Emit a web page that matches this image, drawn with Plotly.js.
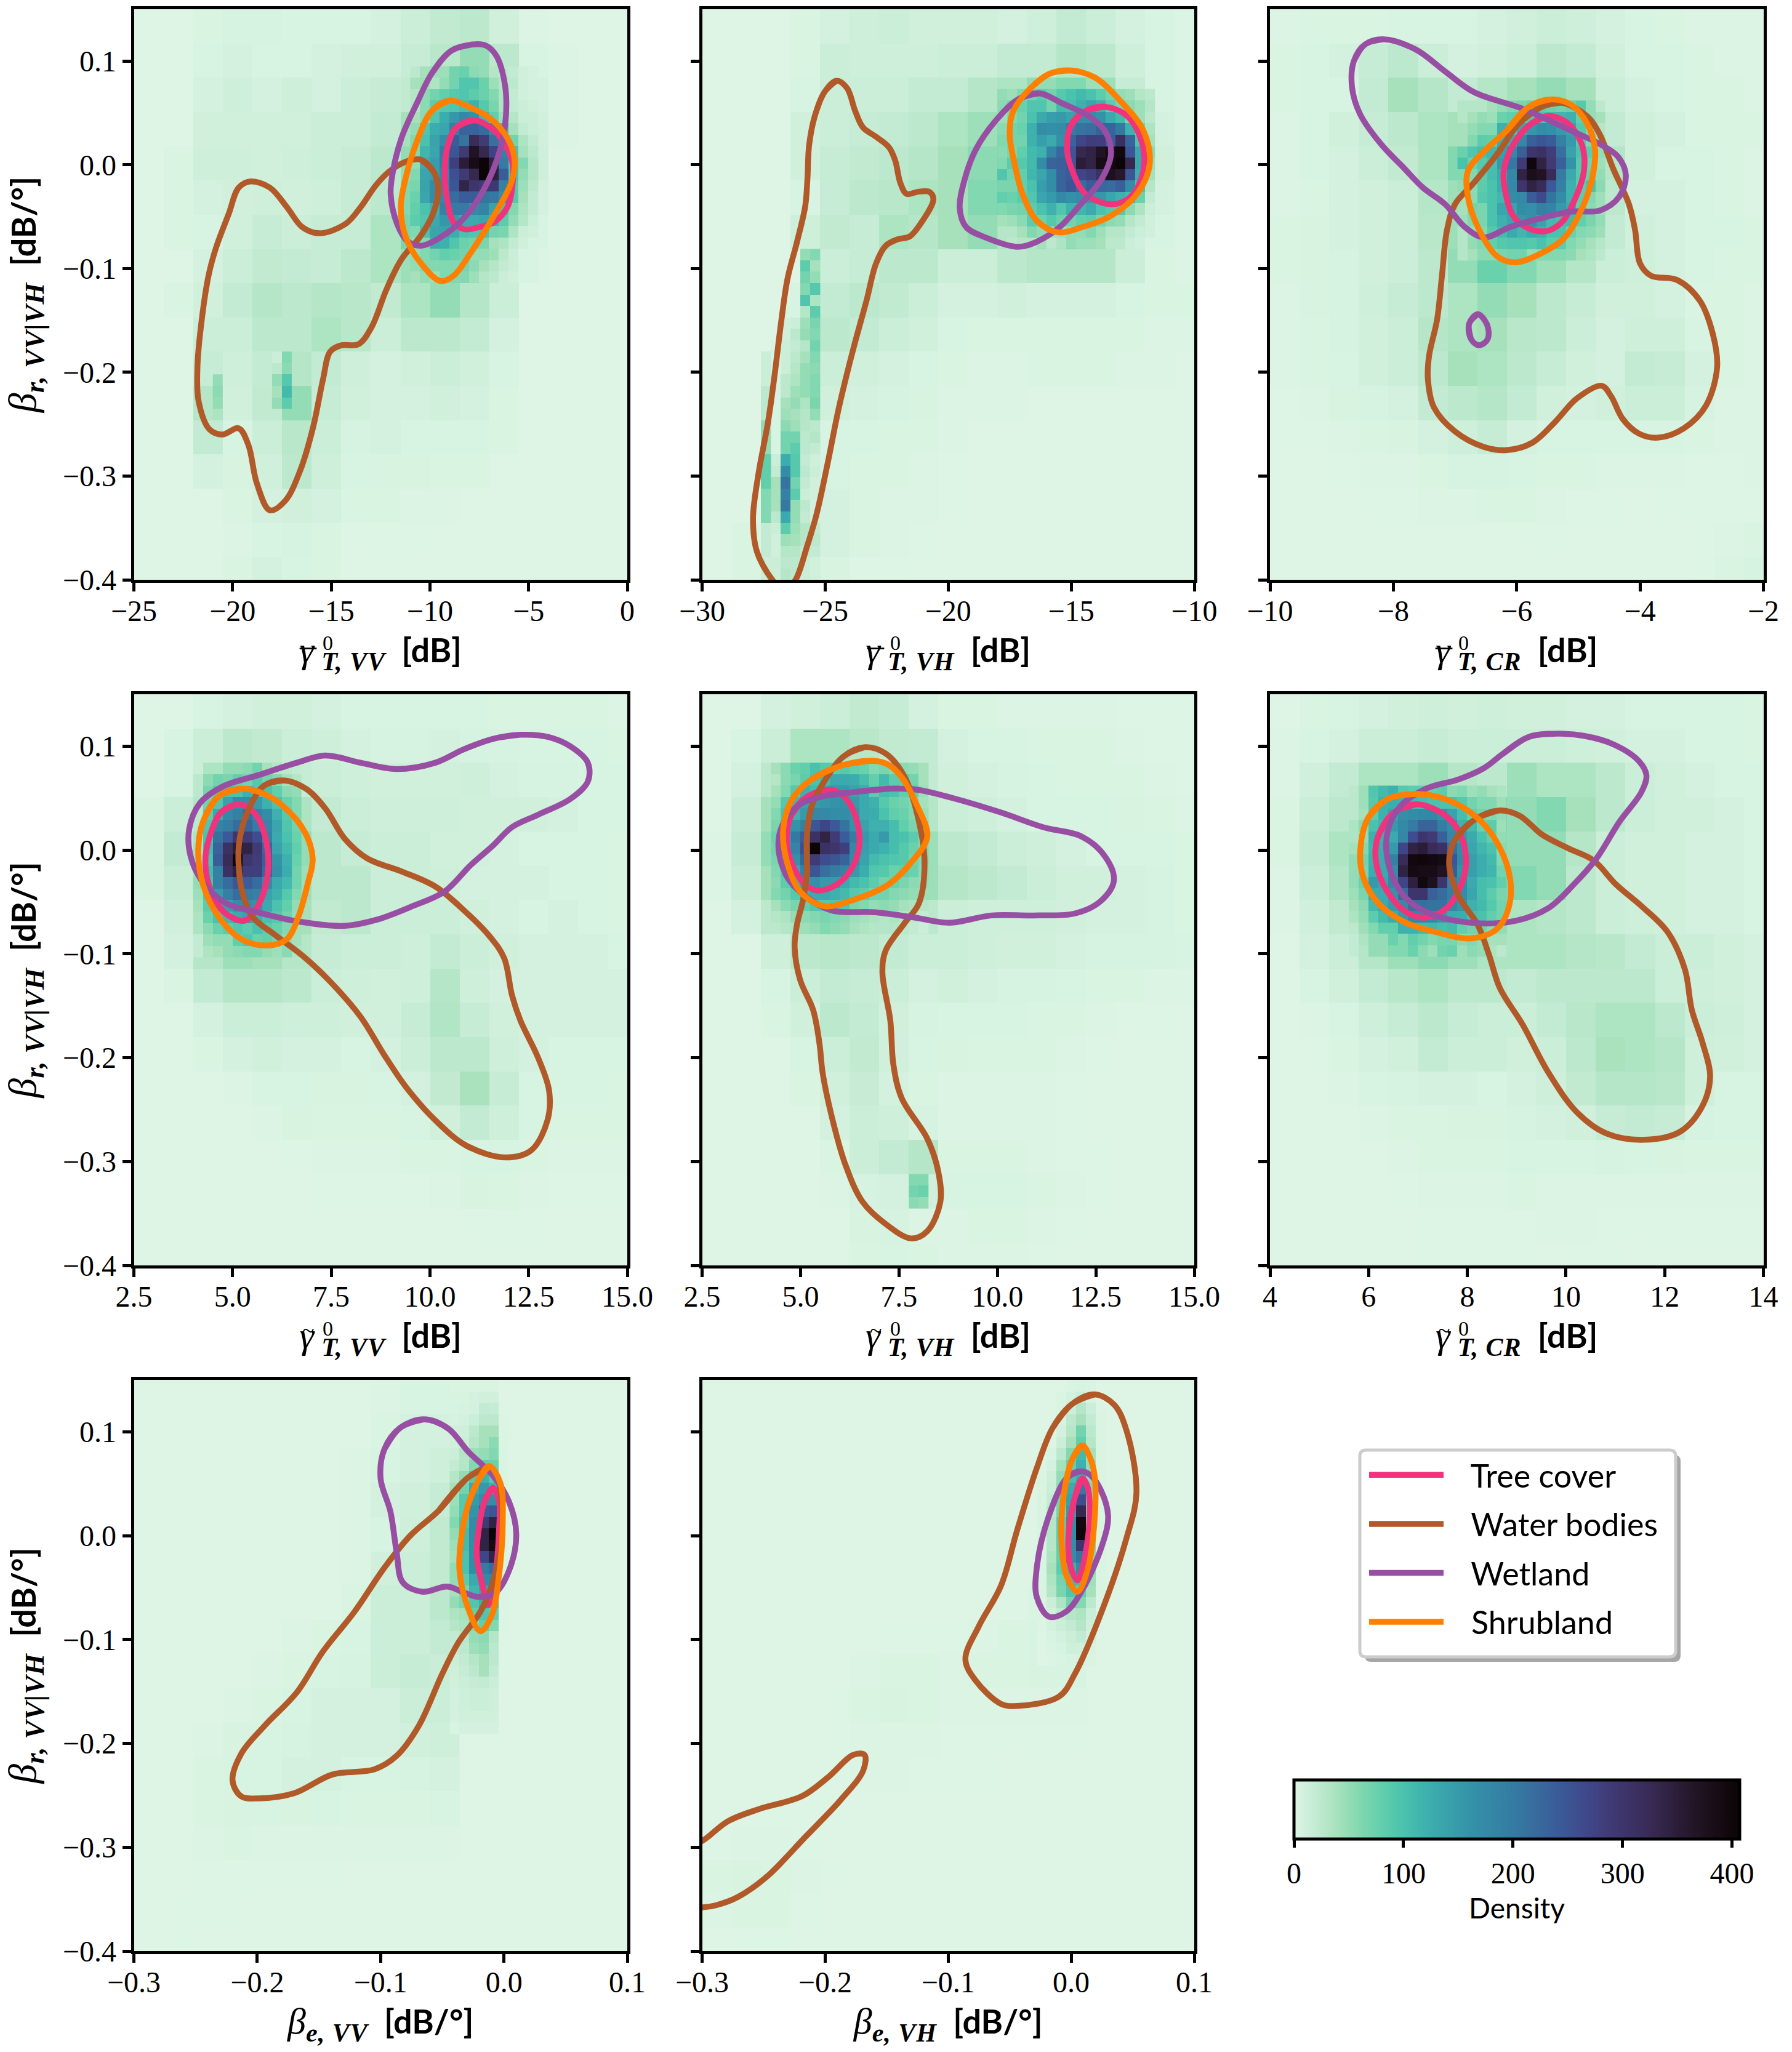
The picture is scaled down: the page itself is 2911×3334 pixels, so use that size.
<!DOCTYPE html>
<html><head><meta charset="utf-8">
<script src="https://cdn.plot.ly/plotly-3.0.1.min.js"></script>
<style>html,body{margin:0;padding:0;background:#fff}</style></head>
<body><div id="chart" style="width:2911px;height:3334px"></div>
<script>
// ---- class styles
const classNames = ['Tree cover','Water bodies','Wetland','Shrubland'];
const classColors = ['#f1337c','#b15928','#984ea3','#ff7f00'];
// ---- density colour ramp
const colorStops = [[0,'#def5e5'],[0.05,'#c3ebd3'],[0.1,'#a5e1ba'],[0.15,'#80d7b0'],[0.2,'#60ceac'],[0.25,'#49c1ad'],[0.3,'#3dafae'],[0.4,'#3491a8'],[0.5,'#3579a2'],[0.6,'#3b5998'],[0.65,'#3e4a8c'],[0.7,'#413c7a'],[0.8,'#382a54'],[0.9,'#231526'],[1,'#0b0405']];
const densityMax = 407;
const densityTicks = [0,100,200,300,400];
const yRange = [-0.4,0.15];
const yTicks = [-0.4,-0.3,-0.2,-0.1,0,0.1];

// ---- panel 1: mean gamma VV
const p1_xRange=[-25,0], p1_xTicks=[-25,-20,-15,-10,-5,0];
const p1_base=[
[0,0,3,6,6,5,5,5,8,15,22,25,10,2,0,0,0],
[0,0,5,8,5,5,8,10,10,18,28,50,25,5,2,0,0],
[0,0,8,12,8,12,8,15,18,22,60,75,30,8,2,0,0],
[0,0,10,10,10,10,15,15,20,40,100,110,40,10,2,0,0],
[0,3,12,12,10,12,15,18,25,50,130,240,70,12,0,0,0],
[0,3,8,10,12,10,12,18,25,60,120,250,60,8,0,0,0],
[0,3,5,10,18,15,18,18,35,65,130,170,35,5,0,0,0],
[0,0,8,15,22,20,18,25,35,45,80,60,15,2,0,0,0],
[0,3,10,20,30,25,30,28,22,35,50,30,15,0,0,0,0],
[0,0,15,15,25,25,35,28,15,25,25,20,8,0,0,0,0],
[0,0,18,12,20,30,20,12,8,10,15,10,5,0,0,0,0],
[0,0,30,10,22,50,18,10,8,8,10,8,3,0,0,0,0],
[0,0,20,5,15,28,15,6,8,5,5,5,3,0,0,0,0],
[0,0,8,4,10,25,12,5,4,4,3,3,0,0,0,0,0],
[0,0,0,3,8,10,8,3,3,2,2,0,0,0,0,0,0],
[0,0,0,2,5,6,3,1,1,1,0,0,0,0,0,0,0],
[0,0,0,3,8,5,3,0,0,0,0,0,0,0,0,0,0]];
const p1_core=[
[25,40,45,45,70,75,55,50,30,25,20,10,8],
[40,45,35,50,70,95,95,75,45,30,25,10,8],
[30,55,70,80,90,95,85,75,60,35,20,10,8],
[30,55,85,90,95,105,120,90,65,35,20,15,10],
[40,55,95,125,155,175,165,115,80,45,30,15,15],
[50,95,125,135,190,230,230,220,180,110,40,20,15],
[60,100,140,170,240,210,320,290,215,130,70,35,20],
[60,115,135,200,250,290,370,330,275,190,100,40,25],
[50,125,145,195,280,350,385,405,340,200,90,60,30],
[60,135,145,180,255,290,330,405,345,240,100,50,30],
[65,140,170,190,250,335,300,290,295,190,90,45,25],
[75,135,170,180,220,240,240,210,205,170,90,40,20],
[80,100,120,190,200,200,175,185,140,100,60,35,20],
[85,95,130,155,150,130,130,135,120,85,50,30,15],
[60,100,135,140,125,100,95,100,70,65,35,15,10],
[50,60,125,120,95,75,70,65,40,35,20,10,5],
[50,60,70,80,75,70,50,50,45,25,15,5,5],
[50,60,60,60,60,65,55,40,30,20,15,5,5],
[40,50,45,60,60,60,45,30,25,15,10,5,5]];
const p1_patchA=[[15,60],[25,55],[50,90],[40,110],[50,85]];
const p1_patchB=[[50],[55],[50],[35]];
const p1_tree_x=[-7.83,-8.71,-9.14,-9.25,-9.14,-8.81,-8.27,-7.5,-6.74,-6.08,-5.8,-5.86,-6.41,-7.17];
const p1_tree_y=[0.043,0.035,0.015,-0.007,-0.032,-0.055,-0.062,-0.06,-0.055,-0.041,-0.016,0.005,0.026,0.039];
const p1_water_x=[-9.58,-9.8,-10.45,-11.22,-12.1,-12.75,-13.52,-14.28,-15.6,-16.47,-17.24,-18.11,-19.09,-19.69,-20.19,-20.84,-21.22,-21.61,-21.78,-21.72,-21.17,-20.52,-19.69,-19.2,-18.77,-18.11,-17.34,-16.58,-15.92,-15.42,-15.05,-14.5,-13.63,-12.97,-12.2,-11.44,-10.45,-9.8];
const p1_water_y=[-0.022,-0.007,0.005,0.003,-0.007,-0.02,-0.041,-0.057,-0.066,-0.06,-0.041,-0.022,-0.016,-0.022,-0.047,-0.08,-0.107,-0.157,-0.195,-0.228,-0.255,-0.26,-0.254,-0.27,-0.307,-0.333,-0.324,-0.295,-0.253,-0.207,-0.18,-0.174,-0.173,-0.157,-0.12,-0.091,-0.068,-0.045];
const p1_wetland_x=[-7.83,-8.92,-9.91,-10.67,-11.44,-11.88,-11.99,-11.66,-11.11,-10.45,-9.47,-8.16,-7.06,-6.41,-6.15,-6.19,-6.63,-7.17];
const p1_wetland_y=[0.116,0.11,0.088,0.059,0.026,-0.007,-0.028,-0.057,-0.074,-0.078,-0.07,-0.049,-0.016,0.017,0.047,0.076,0.105,0.115];
const p1_shrub_x=[-8.99,-9.91,-10.67,-11.22,-11.48,-11.22,-10.45,-9.47,-8.81,-7.94,-6.63,-5.86,-5.71,-6.08,-6.96,-8.05];
const p1_shrub_y=[0.062,0.052,0.022,-0.012,-0.041,-0.07,-0.095,-0.112,-0.107,-0.085,-0.045,-0.016,0.005,0.026,0.045,0.056];

// ---- panel 2: mean gamma VH
const p2_xRange=[-30,-10], p2_xTicks=[-30,-25,-20,-15,-10];
const p2_base=[
[0,0,0,3,8,12,15,10,10,10,8,12,20,15,8,5,2],
[0,0,0,3,15,12,12,12,15,15,20,20,30,25,12,5,2],
[0,0,0,5,15,15,15,20,20,30,35,50,60,45,18,5,2],
[0,0,0,10,15,18,20,25,35,45,60,120,170,90,30,8,2],
[0,0,0,10,18,22,25,30,40,55,80,150,270,230,50,10,2],
[0,0,0,5,18,25,28,35,40,60,85,140,200,150,40,8,2],
[0,0,0,12,22,18,35,30,40,50,60,100,90,60,25,5,2],
[0,0,0,35,15,18,25,25,15,15,25,30,30,30,15,3,2],
[0,0,0,50,20,25,22,15,8,8,10,8,8,8,5,3,3],
[0,0,0,50,25,20,15,10,5,3,3,3,3,3,3,2,2],
[0,0,15,50,15,10,8,5,3,2,2,3,3,3,2,2,0],
[0,0,25,35,10,8,6,4,2,2,2,0,0,0,0,0,0],
[0,0,50,20,5,5,3,3,2,0,0,0,0,0,0,0,0],
[0,0,80,30,5,3,3,2,1,0,0,0,0,0,0,0,0],
[0,0,60,25,8,3,2,2,1,0,0,0,0,0,0,0,0],
[0,3,20,15,8,3,2,1,0,0,0,0,0,0,0,0,0],
[0,3,15,10,4,1,1,0,0,0,0,0,0,0,0,0,0]];
const p2_core=[
[50,45,60,70,85,70,90,100,110,100,85,70,50,45,30,25],
[55,65,75,95,95,70,110,105,120,135,120,85,65,55,45,30],
[45,60,70,100,130,145,150,140,170,170,160,130,110,65,45,25],
[55,70,75,120,170,165,170,200,210,215,235,230,205,120,70,35],
[60,70,70,120,145,130,165,230,270,285,280,240,315,230,100,40],
[55,65,80,110,120,185,225,250,330,340,370,385,395,250,135,55],
[60,85,90,110,170,230,235,250,350,340,385,395,405,330,135,45],
[95,70,80,115,135,170,230,240,270,280,310,375,360,250,125,40],
[65,65,80,100,145,170,230,250,220,240,225,220,235,170,100,30],
[80,75,85,95,135,150,175,165,170,155,155,135,120,110,75,20],
[60,65,70,85,100,120,95,120,115,130,100,90,90,55,35,15],
[40,45,55,85,75,90,75,70,80,85,70,55,50,30,20,10],
[30,30,40,60,50,45,45,50,50,60,45,30,30,20,15,10],
[30,25,30,30,40,25,35,50,45,45,40,25,25,15,10,5]];
const p2_streak=[
[0,0,0,50,60],[0,0,0,85,40],[0,0,0,70,50],[0,0,5,60,90],[0,0,5,95,35],[0,5,5,30,85],[0,10,15,45,65],[0,10,25,50,60],[5,15,20,30,70],[5,15,25,40,60],[5,15,30,50,55],[5,25,35,50,60],[5,25,45,50,60],[5,40,50,35,65],[5,45,40,30,50],[5,55,45,30,25],[5,70,70,25,30],[5,70,85,25,20],[15,125,90,20,12],[20,170,90,25,15],[40,210,70,20,10],[40,190,85,15,10],[40,205,50,25,8],[25,130,50,20,8],[15,85,45,30,20],[10,45,40,30,25],[10,30,30,20,20],[15,25,25,15,10],[15,30,25,15,10]];
const p2_tree_x=[-13.64,-14.49,-15.01,-15.17,-14.95,-14.42,-13.38,-12.59,-12.07,-12.13,-12.72];
const p2_tree_y=[0.056,0.051,0.038,0.015,-0.006,-0.028,-0.038,-0.031,-0.006,0.022,0.047];
const p2_water_x=[-24.54,-25.03,-25.42,-25.65,-25.72,-25.81,-26.14,-26.53,-26.79,-27.05,-27.32,-27.71,-27.93,-27.77,-27.12,-26.66,-26.2,-25.75,-25.35,-24.9,-24.44,-23.85,-23.32,-22.93,-22.54,-22.08,-21.56,-21.1,-20.6,-20.77,-21.23,-21.69,-21.95,-22.15,-22.41,-22.93,-23.46,-23.78,-24.11];
const p2_water_y=[0.081,0.07,0.047,0.019,-0.014,-0.04,-0.074,-0.11,-0.152,-0.202,-0.248,-0.298,-0.341,-0.373,-0.401,-0.412,-0.4,-0.369,-0.337,-0.288,-0.234,-0.177,-0.131,-0.095,-0.078,-0.072,-0.069,-0.056,-0.033,-0.026,-0.026,-0.028,-0.017,0.004,0.017,0.027,0.036,0.052,0.074];
const p2_wetland_x=[-16.32,-17.17,-18.09,-18.87,-19.33,-19.53,-19.27,-18.48,-17.17,-16.39,-15.47,-14.69,-13.77,-13.38,-13.64,-14.29,-15.34];
const p2_wetland_y=[0.069,0.063,0.042,0.015,-0.014,-0.042,-0.06,-0.07,-0.079,-0.074,-0.06,-0.04,-0.014,0.011,0.033,0.047,0.059];
const p2_shrub_x=[-15.01,-15.86,-16.65,-17.37,-17.5,-17.3,-16.98,-16.39,-15.54,-14.55,-13.38,-12.33,-11.81,-12.07,-12.98,-14.03];
const p2_shrub_y=[0.091,0.088,0.074,0.051,0.029,0.001,-0.028,-0.054,-0.065,-0.06,-0.049,-0.028,0.001,0.033,0.061,0.084];

// ---- panel 3: mean gamma CR
const p3_xRange=[-10,-2], p3_xTicks=[-10,-8,-6,-4,-2];
const p3_base=[
[2,3,3,3,5,5,5,8,10,15,12,8,5,3,2,2,2],
[3,5,8,18,25,15,8,10,15,25,20,10,5,5,3,2,2],
[3,5,5,20,40,30,20,30,40,50,40,15,8,5,3,3,2],
[2,5,10,18,25,35,40,45,70,80,50,20,10,8,3,3,3],
[2,5,8,15,22,35,60,100,230,250,90,30,10,5,5,3,2],
[2,3,8,10,15,30,45,100,200,170,70,25,8,8,5,3,2],
[3,4,8,10,15,28,45,70,90,70,50,20,10,8,5,5,3],
[3,4,6,10,15,25,50,75,60,45,30,15,12,8,5,3,3],
[2,4,6,12,18,25,35,50,40,25,18,10,10,8,3,3,2],
[2,3,6,10,15,30,35,40,28,25,15,8,12,12,5,3,2],
[2,3,5,10,15,25,40,35,25,18,10,8,20,18,8,3,2],
[1,2,4,6,8,20,25,30,20,10,8,10,15,15,6,2,2],
[1,1,2,3,4,8,12,18,8,5,5,5,5,5,3,2,2],
[0,0,1,2,2,3,6,6,5,3,3,2,2,2,1,1,2],
[0,0,0,1,1,2,2,3,3,2,1,1,0,1,1,1,1],
[0,0,0,0,0,0,0,0,1,1,0,0,0,0,1,2,3],
[0,0,0,0,0,0,0,0,0,0,0,0,0,0,1,3,6]];
const p3_core=[
[30,30,30,40,50,60,65,75,85,75,70,75,90,50,25],
[30,40,50,45,75,80,80,95,100,110,115,120,80,50,40],
[40,50,60,60,120,95,135,155,170,165,150,140,90,60,30],
[40,60,85,80,125,130,180,235,250,240,190,150,90,60,45],
[75,95,105,115,145,180,235,300,310,285,215,140,100,85,50],
[100,75,90,105,150,205,290,400,340,290,235,160,90,70,45],
[60,60,85,105,130,180,340,380,370,320,200,130,90,75,50],
[50,55,85,100,125,175,300,340,320,245,190,120,85,100,55],
[40,55,90,100,115,170,175,240,265,210,170,120,85,60,45],
[40,70,65,100,135,140,170,165,190,185,150,130,80,55,45],
[45,60,65,100,120,135,155,165,140,110,105,110,80,65,50],
[30,45,60,90,110,130,115,130,120,100,100,75,60,55,45],
[30,50,60,80,90,95,95,90,100,85,85,60,50,40,30],
[30,40,55,55,65,70,70,50,60,60,60,55,40,35,25]];
const p3_tree_x=[-5.49,-5.8,-6.06,-6.21,-6.19,-6.06,-5.85,-5.54,-5.28,-5.07,-4.91,-4.94,-5.17];
const p3_tree_y=[0.047,0.038,0.019,-0.006,-0.024,-0.049,-0.06,-0.064,-0.056,-0.035,-0.006,0.019,0.04];
const p3_water_x=[-5.28,-5.59,-5.96,-6.32,-6.69,-7,-7.13,-7.21,-7.29,-7.42,-7.44,-7.34,-7,-6.53,-6.16,-5.75,-5.38,-5.02,-4.62,-4.47,-4.28,-4.02,-3.71,-3.29,-2.93,-2.75,-2.82,-3.03,-3.4,-3.82,-4,-4.08,-4.18,-4.44,-4.65,-4.86];
const p3_water_y=[0.06,0.056,0.04,0.01,-0.017,-0.038,-0.063,-0.106,-0.149,-0.184,-0.206,-0.234,-0.257,-0.272,-0.275,-0.268,-0.248,-0.225,-0.213,-0.223,-0.245,-0.259,-0.263,-0.254,-0.232,-0.195,-0.163,-0.131,-0.111,-0.107,-0.095,-0.063,-0.038,-0.003,0.029,0.047];
const p3_wetland_x=[-8.15,-8.46,-8.64,-8.67,-8.54,-8.2,-7.83,-7.52,-7.16,-6.84,-6.53,-6.11,-5.64,-5.12,-4.65,-4.34,-4.23,-4.36,-4.65,-5.12,-5.9,-6.69,-7.16,-7.63];
const p3_wetland_y=[0.121,0.116,0.1,0.075,0.049,0.02,-0.003,-0.022,-0.038,-0.06,-0.07,-0.06,-0.052,-0.045,-0.044,-0.031,-0.01,0.008,0.02,0.033,0.054,0.07,0.09,0.111];
const p3_wetlandSmall_x=[-6.63,-6.77,-6.74,-6.61,-6.47,-6.48];
const p3_wetlandSmall_y=[-0.144,-0.153,-0.168,-0.174,-0.168,-0.154];
const p3_shrub_x=[-5.46,-5.8,-6.16,-6.53,-6.79,-6.79,-6.63,-6.32,-6.03,-5.59,-5.22,-4.94,-4.78,-4.73,-4.86,-5.12];
const p3_shrub_y=[0.063,0.056,0.033,0.013,-0.006,-0.031,-0.06,-0.088,-0.094,-0.085,-0.07,-0.042,-0.014,0.015,0.04,0.058];

// ---- panel 4: median gamma VV
const p4_xRange=[2.5,15], p4_xTicks=[2.5,5,7.5,10,12.5,15];
const p4_base=[
[0,0,5,8,10,10,8,5,5,5,5,5,3,3,3,3,2],
[0,5,15,25,22,15,12,8,6,6,8,6,6,5,5,5,3],
[0,5,30,50,35,18,15,12,10,10,10,12,8,6,6,5,5],
[3,15,60,150,100,35,20,15,12,12,12,10,10,10,8,5,5],
[3,20,100,300,150,50,25,18,15,15,10,10,8,5,5,5,3],
[3,15,60,150,110,45,25,25,15,15,12,8,8,8,5,5,3],
[0,10,50,80,70,40,22,25,15,15,15,10,8,5,8,5,3],
[0,8,30,45,40,30,18,15,15,12,20,15,10,8,8,8,5],
[0,3,20,30,30,25,15,12,10,12,30,12,8,8,8,8,8],
[0,0,8,15,15,12,12,10,10,18,32,18,10,8,8,8,8],
[0,0,3,8,10,8,8,5,8,15,25,25,12,8,5,5,5],
[0,0,0,2,5,5,4,4,5,8,22,38,18,5,5,5,3],
[0,0,0,0,2,4,3,3,3,5,10,20,12,5,3,3,3],
[0,0,0,0,0,1,2,2,2,3,3,5,5,3,2,2,2],
[0,0,0,0,0,0,1,1,1,1,2,4,3,2,1,1,1],
[0,0,0,0,0,0,0,0,0,0,0,1,1,1,0,0,0],
[0,0,0,0,0,0,0,0,0,0,0,0,0,0,0,0,0]];
const p4_core=[
[15,35,35,50,50,55,70,40,30,25,20],
[25,55,70,65,80,70,90,70,60,40,30],
[25,65,85,100,100,120,95,100,80,55,50],
[30,70,95,140,170,170,150,120,100,75,60],
[25,85,130,175,190,215,190,170,120,90,60],
[25,95,185,195,220,230,200,180,135,95,70],
[35,100,210,245,300,290,260,190,130,100,75],
[40,110,230,310,350,340,290,225,140,110,80],
[45,100,240,320,400,300,285,235,160,120,75],
[40,110,190,310,345,280,280,225,165,125,70],
[50,100,190,220,250,240,220,170,130,110,70],
[45,95,150,190,220,200,190,140,120,90,60],
[40,85,130,145,170,170,160,130,100,80,50],
[35,75,100,115,130,140,120,100,90,70,50],
[35,55,75,85,95,85,100,85,75,60,40],
[20,45,50,50,80,95,75,80,70,50,40],
[20,35,40,50,55,60,60,50,45,55,35]];
const p4_tree_x=[5.11,4.7,4.42,4.31,4.46,4.82,5.31,5.64,5.88,5.88,5.64,5.35];
const p4_tree_y=[0.044,0.036,0.013,-0.012,-0.04,-0.061,-0.068,-0.054,-0.026,0.002,0.031,0.042];
const p4_water_x=[6.29,5.8,5.44,5.19,5.15,5.27,5.52,6.05,6.78,7.43,8.25,8.82,9.39,10.13,10.94,11.92,12.57,12.98,13.02,12.74,12.29,12.08,11.88,11.51,10.86,10.13,9.31,8.41,7.84,7.35,6.86];
const p4_water_y=[0.067,0.062,0.042,0.013,-0.012,-0.044,-0.065,-0.081,-0.102,-0.125,-0.161,-0.196,-0.228,-0.26,-0.285,-0.296,-0.289,-0.26,-0.232,-0.2,-0.164,-0.14,-0.104,-0.083,-0.058,-0.035,-0.021,-0.008,0.011,0.04,0.059];
const p4_wetland_x=[12.29,11.59,10.86,10.13,9.15,8.25,7.35,6.62,5.64,4.74,4.17,3.9,3.93,4.21,4.82,5.64,6.7,7.84,8.66,9.56,10.37,11.02,11.59,12.08,12.74,13.55,14,14,13.55,12.98];
const p4_wetland_y=[0.111,0.107,0.097,0.084,0.078,0.084,0.091,0.084,0.072,0.061,0.045,0.02,-0.005,-0.029,-0.051,-0.06,-0.069,-0.073,-0.067,-0.054,-0.04,-0.015,0.004,0.022,0.034,0.049,0.066,0.084,0.1,0.109];
const p4_shrub_x=[5.27,4.66,4.25,4.13,4.25,4.66,5.23,5.88,6.37,6.66,6.9,7.03,6.82,6.29,5.8];
const p4_shrub_y=[0.059,0.052,0.027,-0.001,-0.033,-0.065,-0.086,-0.092,-0.086,-0.065,-0.033,-0.008,0.018,0.042,0.054];

// ---- panel 5: median gamma VH
const p5_xRange=[2.5,15], p5_xTicks=[2.5,5,7.5,10,12.5,15];
const p5_base=[
[0,0,8,10,15,22,18,8,3,3,2,2,2,2,1,1,1],
[0,5,15,35,35,28,22,20,8,5,5,3,3,3,2,1,1],
[0,8,25,60,70,60,40,20,10,8,6,5,3,3,3,2,1],
[0,14,40,170,180,90,60,30,15,12,8,5,5,5,4,3,2],
[2,18,50,350,230,120,90,45,25,20,15,12,8,5,5,5,3],
[2,14,40,130,130,90,60,45,30,25,20,15,10,10,8,6,3],
[0,8,25,40,50,40,30,25,15,12,12,12,10,8,8,6,3],
[0,0,12,25,28,25,20,15,15,12,10,10,8,6,6,6,5],
[0,0,5,15,20,18,15,8,10,8,6,6,5,3,3,2,2],
[0,0,3,10,25,20,10,6,5,5,5,3,3,2,1,1,0],
[0,0,0,5,15,22,10,5,4,3,3,3,2,1,0,0,0],
[0,0,0,3,10,18,8,3,2,2,2,2,1,0,0,0,0],
[0,0,0,0,8,15,12,6,2,2,2,2,1,0,0,0,0],
[0,0,0,0,3,15,20,30,3,3,3,2,1,1,0,0,0],
[0,0,0,0,2,6,8,10,5,5,5,3,2,1,0,0,0],
[0,0,0,0,0,4,6,2,2,3,3,2,1,0,0,0,0],
[0,0,0,0,0,3,5,3,2,2,2,1,0,0,0,0,0]];
const p5_core=[
[40,55,75,80,100,90,85,90,80,75,60,65,60,55,50,40],
[30,55,65,85,100,110,130,130,125,105,80,110,85,85,70,40],
[40,60,90,120,110,130,150,150,140,125,85,105,100,80,80,45],
[50,90,115,140,150,155,160,165,150,130,120,90,75,70,60,40],
[60,100,120,150,180,175,170,170,160,130,125,100,80,75,60,45],
[65,100,160,190,250,270,245,210,160,140,120,120,105,80,65,50],
[75,110,205,240,310,340,290,240,200,150,130,150,105,100,85,55],
[70,100,185,260,405,310,300,280,180,145,130,120,105,90,75,60],
[65,100,165,230,290,260,250,230,170,140,110,100,95,90,70,60],
[60,90,140,190,250,215,200,185,150,125,95,90,75,80,75,55],
[55,85,120,150,165,150,150,130,110,100,85,70,75,65,55,50],
[60,70,90,120,130,130,120,110,90,85,70,70,60,55,50,45],
[40,55,65,80,95,90,95,95,65,60,50,55,50,40,35,30],
[30,35,50,55,60,65,60,55,45,40,35,30,35,30,25,20],
[25,30,35,45,50,60,55,50,40,35,30,30,30,25,20,15]];
const p5_patch=[[60,60],[70,75],[55,50]];
const p5_tree_x=[5.77,5.2,4.77,4.65,4.77,5.11,5.44,5.93,6.34,6.5,6.34,6.09];
const p5_tree_y=[0.058,0.052,0.034,0.01,-0.012,-0.033,-0.039,-0.033,-0.015,0.01,0.038,0.052];
const p5_water_x=[6.63,6.09,5.6,5.28,5.16,5.16,5.07,4.91,4.85,4.99,5.32,5.48,5.56,5.77,6.14,6.58,7.16,7.81,8.22,8.55,8.5,8.22,7.57,7.36,7.28,7.08,7.16,7.65,8.01,8.15,8.01,7.65,7.16];
const p5_water_y=[0.099,0.09,0.066,0.042,0.013,-0.022,-0.047,-0.072,-0.093,-0.125,-0.154,-0.186,-0.214,-0.253,-0.303,-0.339,-0.36,-0.374,-0.367,-0.339,-0.31,-0.278,-0.239,-0.207,-0.164,-0.118,-0.097,-0.07,-0.051,-0.012,0.027,0.07,0.093];
const p5_wetland_x=[7.24,6.42,5.6,4.95,4.54,4.44,4.66,5.11,5.77,6.91,7.89,8.79,9.85,10.92,11.98,12.63,12.96,12.71,12.14,11.16,10.1,8.87,7.97];
const p5_wetland_y=[0.059,0.056,0.052,0.043,0.024,0.002,-0.026,-0.044,-0.058,-0.06,-0.065,-0.07,-0.063,-0.063,-0.061,-0.049,-0.029,-0.005,0.013,0.022,0.036,0.05,0.058];
const p5_shrub_x=[6.83,6.01,5.28,4.79,4.56,4.66,4.99,5.6,6.42,7.24,7.81,8.22,7.97,7.57,7.24];
const p5_shrub_y=[0.086,0.081,0.068,0.049,0.02,-0.012,-0.04,-0.054,-0.047,-0.033,-0.012,0.013,0.042,0.07,0.082];

// ---- panel 6: median gamma CR
const p6_xRange=[4,14], p6_xTicks=[4,6,8,10,12,14];
const p6_base=[
[0,3,5,8,10,12,10,12,10,10,8,8,5,5,5,5,3],
[2,5,8,15,15,18,15,15,15,15,12,10,8,8,5,5,3],
[2,10,20,35,35,45,30,25,45,35,35,25,15,10,8,5,5],
[3,15,25,70,100,130,100,70,50,60,40,25,15,10,10,8,5],
[3,18,35,150,350,300,150,60,50,50,30,15,10,10,8,8,5],
[2,15,30,120,250,200,130,60,60,50,25,15,10,10,8,8,5],
[2,10,22,60,90,90,80,50,35,30,25,15,12,10,8,8,5],
[0,8,15,30,45,55,45,35,35,35,30,28,20,15,15,10,8],
[0,5,10,20,28,35,25,25,20,25,25,25,25,15,12,10,8],
[0,2,5,12,18,25,18,15,15,20,28,35,35,25,15,12,8],
[0,1,3,8,10,20,15,15,10,15,25,38,35,30,12,10,8],
[0,0,2,5,6,8,8,5,8,12,22,30,30,28,12,5,5],
[0,0,0,2,3,3,4,4,6,8,10,18,20,18,6,5,5],
[0,0,0,0,2,3,3,3,5,5,5,6,5,4,3,3,3],
[0,0,0,0,1,2,2,2,3,2,2,2,2,2,2,2,2],
[0,0,0,0,0,1,1,1,1,2,2,1,1,1,1,1,1],
[0,0,0,0,0,1,1,1,1,0,1,1,0,0,0,0,0]];
const p6_core=[
[25,45,95,110,120,90,85,80,80,85,55,60,45,50,40,35],
[25,45,90,120,125,120,110,105,100,100,100,90,70,60,60,45],
[25,40,85,120,140,165,170,175,180,165,140,105,80,70,60,50],
[35,55,100,115,150,175,200,230,230,195,170,120,110,75,85,45],
[35,50,120,120,130,180,260,300,290,235,180,150,130,100,80,50],
[40,60,115,125,150,270,340,350,320,310,215,170,135,115,100,55],
[50,70,120,130,190,320,395,400,395,390,250,175,145,125,110,60],
[50,65,125,130,170,340,390,385,385,370,240,160,145,125,115,70],
[50,75,150,135,180,270,345,395,375,300,190,170,130,105,100,80],
[45,65,130,130,160,220,300,300,235,220,195,170,135,105,85,65],
[40,55,110,130,150,170,215,215,210,210,180,160,120,110,90,70],
[35,50,85,110,125,150,180,180,175,155,130,125,105,100,80,70],
[25,45,60,80,80,120,120,110,115,105,110,80,70,70,55,50],
[20,35,50,50,75,60,80,70,60,65,65,55,60,50,40,40],
[20,30,50,50,60,60,75,55,45,70,75,45,55,50,35,25]];
const p6_tree_x=[6.97,6.51,6.19,6.15,6.38,6.77,7.16,7.62,7.96,7.88,7.56];
const p6_tree_y=[0.044,0.036,0.013,-0.012,-0.04,-0.06,-0.065,-0.054,-0.019,0.013,0.033];
const p6_water_x=[8.63,8.14,7.75,7.63,7.82,8.21,8.44,8.66,9.12,9.64,10.23,10.82,11.6,12.32,12.77,12.92,12.77,12.55,12.41,12.06,11.53,11.01,10.56,10.03,9.51,9.06];
const p6_water_y=[0.038,0.029,0.01,-0.012,-0.044,-0.072,-0.101,-0.133,-0.168,-0.214,-0.253,-0.273,-0.279,-0.271,-0.246,-0.218,-0.186,-0.154,-0.115,-0.079,-0.054,-0.033,-0.01,0.002,0.015,0.033];
const p6_wetland_x=[9.81,9.25,8.73,8.34,7.82,7.16,6.64,6.38,6.41,6.71,7.23,8.08,8.99,9.64,10.16,10.62,11.08,11.53,11.63,11.47,10.95,10.36];
const p6_wetland_y=[0.112,0.109,0.093,0.079,0.068,0.059,0.042,0.017,-0.015,-0.044,-0.061,-0.07,-0.068,-0.056,-0.033,-0.008,0.027,0.056,0.072,0.086,0.102,0.11];
const p6_shrub_x=[6.97,6.38,5.99,5.83,5.89,6.19,6.71,7.36,8.08,8.6,8.86,8.83,8.47,8.01,7.49];
const p6_shrub_y=[0.054,0.049,0.031,-0.001,-0.026,-0.051,-0.069,-0.079,-0.085,-0.076,-0.051,-0.019,0.017,0.038,0.05];

// ---- panel 7: beta_e VV
const p7_xRange=[-0.3,0.1], p7_xTicks=[-0.3,-0.2,-0.1,0,0.1];
const p7_base=[
[0,0,0,0,0,0,0,0,2,5,5],
[0,0,0,0,0,0,0,0,3,8,8],
[0,0,0,0,0,0,0,2,5,8,12],
[0,0,0,0,0,0,0,2,8,10,18],
[0,0,0,0,0,0,0,2,5,12,22],
[0,0,0,0,0,0,0,2,10,15,22],
[0,0,0,0,0,0,0,3,15,15,25],
[0,0,0,0,0,2,3,5,15,15,20],
[0,0,0,0,2,3,5,6,15,18,16],
[0,0,0,2,3,5,8,8,8,15,15],
[0,0,2,4,5,6,8,8,8,10,12],
[0,0,3,5,5,8,8,5,5,6,8],
[0,0,3,4,5,4,5,3,3,3,5],
[0,0,2,3,2,2,2,2,2,2,2],
[0,0,1,1,1,1,1,0,0,0,0],
[0,1,1,1,0,0,0,0,0,0,0],
[0,1,0,0,0,0,0,0,0,0,0]];
const p7_core=[
[3,3,3,3,3,0],[4,4,8,10,10,0],[5,6,8,20,18,1],[6,8,15,25,25,2],[10,12,25,40,40,2],[10,15,30,40,55,3],[15,30,45,50,60,3],[20,30,60,80,75,3],[30,50,90,120,90,3],[40,70,130,150,120,3],[45,90,150,170,170,3],[50,90,160,240,250,3],[60,100,170,290,340,3],[50,110,170,340,405,3],[45,110,170,340,390,3],[40,100,170,270,340,3],[50,100,170,200,220,3],[50,85,130,175,180,3],[40,65,115,140,140,2],[50,65,95,120,110,2],[35,40,80,95,80,2],[30,35,60,80,60,2],[20,28,50,55,30,1],[18,25,45,50,25,1],[15,20,30,40,25,1],[12,18,25,40,20,1],[10,15,18,20,15,0],[8,12,15,15,12,0],[8,12,15,15,12,0],[8,10,10,10,10,0],[5,8,8,8,8,0]];
const p7_tree_x=[-0.009,-0.016,-0.021,-0.022,-0.016,-0.013,-0.007,-0.004,-0.004];
const p7_tree_y=[0.046,0.032,0.001,-0.02,-0.055,-0.067,-0.038,0.005,0.033];
const p7_water_x=[-0.014,-0.029,-0.053,-0.076,-0.097,-0.121,-0.147,-0.168,-0.194,-0.213,-0.22,-0.213,-0.199,-0.17,-0.139,-0.105,-0.087,-0.069,-0.05,-0.037,-0.019,-0.009,-0.002,-0.002,-0.006];
const p7_water_y=[0.065,0.056,0.024,0,-0.031,-0.073,-0.112,-0.151,-0.183,-0.21,-0.236,-0.251,-0.253,-0.248,-0.23,-0.225,-0.212,-0.183,-0.133,-0.103,-0.073,-0.045,-0.006,0.033,0.058];
const p7_wetland_x=[-0.065,-0.084,-0.097,-0.1,-0.092,-0.087,-0.082,-0.066,-0.046,-0.032,-0.02,-0.007,0.004,0.01,0.004,-0.009,-0.029,-0.045];
const p7_wetland_y=[0.112,0.104,0.083,0.055,0.023,-0.016,-0.045,-0.054,-0.049,-0.055,-0.059,-0.055,-0.034,0.001,0.033,0.058,0.081,0.103];
const p7_shrub_x=[-0.012,-0.02,-0.029,-0.035,-0.036,-0.029,-0.019,-0.01,-0.004,-0.001,-0.003];
const p7_shrub_y=[0.067,0.055,0.03,-0.006,-0.034,-0.07,-0.092,-0.077,-0.038,0.012,0.051];

// ---- panel 8: beta_e VH
const p8_xRange=[-0.3,0.1], p8_xTicks=[-0.3,-0.2,-0.1,0,0.1];
const p8_base=[
[0,0,0,0,0,0,0,0,0,0,0,0,0],
[0,0,0,0,0,0,0,0,0,0,0,0,0],
[0,0,0,0,0,0,0,0,0,0,0,0,0],
[0,0,0,0,0,0,0,0,0,0,0,0,0],
[0,0,0,0,0,0,0,0,0,0,0,0,0],
[0,0,0,0,0,0,0,0,0,0,0,0,1],
[0,0,0,0,0,0,0,0,0,0,1,3,5],
[0,0,0,0,0,0,1,1,1,2,3,5,8],
[0,0,0,0,0,2,3,3,2,3,3,4,5],
[0,0,0,0,1,3,4,3,2,2,2,2,2],
[0,0,0,0,1,2,2,2,1,1,1,1,1],
[0,0,0,0,1,2,2,1,1,1,0,0,0],
[0,0,1,1,1,0,0,0,0,0,0,0,0],
[1,2,2,1,0,0,0,0,0,0,0,0,0],
[3,4,3,2,1,0,0,0,0,0,0,0,0],
[2,3,3,1,0,0,0,0,0,0,0,0,0],
[0,1,1,0,0,0,0,0,0,0,0,0,0]];
const p8_core=[
[0,0,0,3,5,3,0],[0,0,3,8,15,5,0],[0,0,3,15,30,15,2],[0,0,5,25,40,20,3],[0,0,8,30,70,25,3],[0,0,15,40,80,30,3],[2,5,25,60,110,40,3],[2,8,40,80,120,50,3],[3,12,50,105,130,50,3],[3,15,55,130,205,60,3],[4,18,70,140,260,60,3],[4,25,70,150,330,60,3],[5,30,85,170,395,60,3],[5,30,85,170,400,60,3],[5,30,85,170,300,60,3],[5,35,80,170,210,55,3],[5,40,85,120,170,50,3],[5,35,70,110,105,45,3],[4,30,65,95,80,40,3],[3,15,35,70,60,25,2],[3,10,20,30,35,15,2],[2,8,15,20,30,12,1],[1,5,8,15,20,8,1],[1,3,5,12,10,5,0],[0,2,3,5,6,3,0]];
const p8_tree_x=[0.009,0.003,-0.002,-0.001,0.005,0.01,0.015,0.013];
const p8_tree_y=[0.055,0.037,0.005,-0.027,-0.043,-0.027,0.019,0.048];
const p8_water_x=[0.019,0.001,-0.015,-0.028,-0.044,-0.057,-0.075,-0.086,-0.078,-0.057,-0.044,-0.01,0.003,0.027,0.045,0.053,0.045,0.035];
const p8_water_y=[0.136,0.127,0.104,0.065,0.005,-0.048,-0.087,-0.119,-0.139,-0.162,-0.164,-0.155,-0.133,-0.066,-0.002,0.041,0.101,0.126];
const p8_waterLobe_x=[-0.31,-0.3,-0.279,-0.253,-0.219,-0.198,-0.177,-0.168,-0.169,-0.187,-0.216,-0.248,-0.271,-0.289,-0.3,-0.31];
const p8_waterLobe_y=[-0.298,-0.294,-0.275,-0.263,-0.251,-0.233,-0.211,-0.211,-0.226,-0.254,-0.29,-0.329,-0.348,-0.356,-0.358,-0.359];
const p8_wetland_x=[0.007,-0.004,-0.019,-0.028,-0.028,-0.018,-0.004,0.011,0.026,0.03,0.024,0.015];
const p8_wetland_y=[0.062,0.055,0.016,-0.031,-0.059,-0.078,-0.073,-0.048,-0.006,0.019,0.044,0.059];
const p8_shrub_x=[0.009,0.001,-0.006,-0.008,-0.004,0.005,0.013,0.019,0.019,0.015];
const p8_shrub_y=[0.087,0.074,0.04,-0.002,-0.038,-0.054,-0.034,0.016,0.058,0.076];

// ---- axis label text
const U=t=>'<span style="font-family:Lato;font-weight:bold;font-size:54px">\u00a0\u00a0['+t+']</span>';
const S=t=>'<sub><span style="letter-spacing:1px"><b><i>'+t+'</i></b></span></sub>';
const yLabel='<i>β</i>'+S('r, VV|VH')+U('dB/°');
const gamma='<i>γ</i>\u2009';
const gammaLabel=s=>gamma+S('T, '+s)+U('dB');
const xLabels=[gammaLabel('VV'),gammaLabel('VH'),gammaLabel('CR'),gammaLabel('VV'),gammaLabel('VH'),gammaLabel('CR'),
 '<i>β</i>'+S('e, VV')+U('dB/°'),'<i>β</i>'+S('e, VH')+U('dB/°')];

// ---- page geometry (pixels)
const W=2911,H=3334;
const colPx=[[217.5,1019],[1140.5,1940],[2063,2864.5]];
const rowPx=[[15,942],[1128,2056],[2242,3170]];
const fx=p=>p/W, fy=p=>1-p/H;

const panels=[
 {xr:p1_xRange,xt:p1_xTicks,base:p1_base,layers:[{z:p1_core,c:28,r:5},{z:p1_patchA,c:14,r:30},{z:p1_patchB,c:8,r:32}],
  lines:[[0,p1_tree_x,p1_tree_y,1],[1,p1_water_x,p1_water_y,1],[2,p1_wetland_x,p1_wetland_y,1],[3,p1_shrub_x,p1_shrub_y,1]]},
 {xr:p2_xRange,xt:p2_xTicks,base:p2_base,layers:[{z:p2_core,c:30,r:7},{z:p2_streak,c:7,r:21}],
  lines:[[0,p2_tree_x,p2_tree_y,1],[1,p2_water_x,p2_water_y,1],[2,p2_wetland_x,p2_wetland_y,1],[3,p2_shrub_x,p2_shrub_y,1]]},
 {xr:p3_xRange,xt:p3_xTicks,base:p3_base,layers:[{z:p3_core,c:19,r:8}],
  lines:[[0,p3_tree_x,p3_tree_y,1],[1,p3_water_x,p3_water_y,1],[2,p3_wetland_x,p3_wetland_y,1],[2,p3_wetlandSmall_x,p3_wetlandSmall_y,1],[3,p3_shrub_x,p3_shrub_y,1]]},
 {xr:p4_xRange,xt:p4_xTicks,fmt:'.1f',base:p4_base,layers:[{z:p4_core,c:6,r:6}],
  lines:[[0,p4_tree_x,p4_tree_y,1],[1,p4_water_x,p4_water_y,1],[2,p4_wetland_x,p4_wetland_y,1],[3,p4_shrub_x,p4_shrub_y,1]]},
 {xr:p5_xRange,xt:p5_xTicks,fmt:'.1f',base:p5_base,layers:[{z:p5_core,c:7,r:6},{z:p5_patch,c:21,r:42}],
  lines:[[0,p5_tree_x,p5_tree_y,1],[1,p5_water_x,p5_water_y,1],[2,p5_wetland_x,p5_wetland_y,1],[3,p5_shrub_x,p5_shrub_y,1]]},
 {xr:p6_xRange,xt:p6_xTicks,base:p6_base,layers:[{z:p6_core,c:8,r:8}],
  lines:[[0,p6_tree_x,p6_tree_y,1],[1,p6_water_x,p6_water_y,1],[2,p6_wetland_x,p6_wetland_y,1],[3,p6_shrub_x,p6_shrub_y,1]]},
 {xr:p7_xRange,xt:p7_xTicks,fmt:'.1f',base:p7_base,layers:[{z:p7_core,c:32,r:0}],
  lines:[[0,p7_tree_x,p7_tree_y,1],[1,p7_water_x,p7_water_y,1],[2,p7_wetland_x,p7_wetland_y,1],[3,p7_shrub_x,p7_shrub_y,1]]},
 {xr:p8_xRange,xt:p8_xTicks,fmt:'.1f',base:p8_base,layers:[{z:p8_core,c:34,r:0}],
  lines:[[0,p8_tree_x,p8_tree_y,1],[1,p8_water_x,p8_water_y,1],[1,p8_waterLobe_x,p8_waterLobe_y,0],[2,p8_wetland_x,p8_wetland_y,1],[3,p8_shrub_x,p8_shrub_y,1]]}
];

const tickFont={family:'Liberation Serif',size:48,color:'#000'};
const titleFont={family:'Liberation Serif',size:60,color:'#000'};
const axisCommon={showline:true,mirror:true,linewidth:5,linecolor:'#000',ticks:'outside',ticklen:14,tickwidth:5,tickcolor:'#000',zeroline:false,showgrid:false,tickfont:tickFont,automargin:false};
const layout={width:W,height:H,margin:{l:0,r:0,t:0,b:0},paper_bgcolor:'#fff',plot_bgcolor:'#def5e5',
 font:{family:'Liberation Serif',size:46,color:'#000'},
 coloraxis:{colorscale:colorStops,cmin:0,cmax:densityMax,
  colorbar:{orientation:'h',x:fx(2102),xanchor:'left',y:fy(2892),yanchor:'top',lenmode:'pixels',len:724,thicknessmode:'pixels',thickness:96,xpad:0,ypad:0,
   outlinewidth:5,outlinecolor:'#000',ticks:'outside',ticklen:12,tickwidth:5,tickcolor:'#000',tickvals:densityTicks,tickfont:tickFont,
   title:{text:'Density',side:'bottom',font:{family:'Lato',size:46,color:'#000'}}}},
 legend:{x:fx(2219),y:fy(2356),xanchor:'left',yanchor:'top',bgcolor:'rgba(0,0,0,0)',borderwidth:0,font:{family:'Lato',size:52,color:'#000'},itemwidth:121,tracegroupgap:9,traceorder:'grouped'},
 shapes:[],annotations:[],showlegend:true};

// legend frame + shadow
function roundRect(x0,y0,x1,y1,r){
 return `M ${fx(x0+r)} ${fy(y0)} L ${fx(x1-r)} ${fy(y0)} Q ${fx(x1)} ${fy(y0)} ${fx(x1)} ${fy(y0+r)} L ${fx(x1)} ${fy(y1-r)} Q ${fx(x1)} ${fy(y1)} ${fx(x1-r)} ${fy(y1)} L ${fx(x0+r)} ${fy(y1)} Q ${fx(x0)} ${fy(y1)} ${fx(x0)} ${fy(y1-r)} L ${fx(x0)} ${fy(y0+r)} Q ${fx(x0)} ${fy(y0)} ${fx(x0+r)} ${fy(y0)} Z`;
}
layout.shapes.push({type:'path',xref:'paper',yref:'paper',path:roundRect(2217,2364,2730,2700,10),fillcolor:'#a6a6a6',line:{width:0},layer:'above'});
layout.shapes.push({type:'path',xref:'paper',yref:'paper',path:roundRect(2209,2356,2722,2692,10),fillcolor:'#ffffff',line:{color:'#cccccc',width:5},layer:'above'});

const traces=[];
panels.forEach((p,i)=>{
 const n=i+1, col=i%3, row=Math.floor(i/3);
 const xa='xaxis'+(n===1?'':n), ya='yaxis'+(n===1?'':n);
 const xs='x'+(n===1?'':n), ys='y'+(n===1?'':n);
 const bx=(p.xr[1]-p.xr[0])/50, by=(yRange[1]-yRange[0])/50;
 layout[xa]=Object.assign({},axisCommon,{domain:[fx(colPx[col][0]),fx(colPx[col][1])],anchor:ys,range:p.xr,tickmode:'array',tickvals:p.xt,ticklabelstandoff:-10,
   tickformat:p.fmt||'',title:{text:xLabels[i],font:titleFont,standoff:18}});
 layout[ya]=Object.assign({},axisCommon,{domain:[fy(rowPx[row][1]),fy(rowPx[row][0])],anchor:xs,range:yRange,tickmode:'array',tickvals:yTicks,tickformat:'.1f',
   showticklabels:col===0,title:col===0?{text:yLabel,font:{family:'Liberation Serif',size:64,color:'#000'},standoff:24}:undefined});
 if(i<6){
  const cx=(colPx[col][0]+colPx[col][1])/2;
  const dy=rowPx[row][1];
  layout.annotations.push({xref:'paper',yref:'paper',x:fx(cx-86),y:fy(dy+102),xanchor:'center',yanchor:'middle',text:'0',showarrow:false,font:{family:'Liberation Serif',size:34,color:'#000'}});
  layout.annotations.push({xref:'paper',yref:'paper',x:fx(cx-118),y:fy(dy+106),xanchor:'center',yanchor:'middle',text:row===0?'\u2013':'~',showarrow:false,font:{family:'Liberation Serif',size:row===0?54:36,color:'#000'}});
 }
 traces.push({type:'heatmap',xaxis:xs,yaxis:ys,coloraxis:'coloraxis',z:p.base,x0:p.xr[0]+1.5*bx,dx:3*bx,y0:yRange[1]-1.5*by,dy:-3*by,hoverinfo:'skip'});
 p.layers.forEach(l=>traces.push({type:'heatmap',xaxis:xs,yaxis:ys,coloraxis:'coloraxis',z:l.z,x0:p.xr[0]+(l.c+0.5)*bx,dx:bx,y0:yRange[1]-(l.r+0.5)*by,dy:-by,hoverinfo:'skip'}));
 p.lines.forEach(ln=>{
  const [c,lx,ly,closed]=ln;
  const X=closed?lx.concat(lx.slice(0,3)):lx, Y=closed?ly.concat(ly.slice(0,3)):ly;
  traces.push({type:'scatter',mode:'lines',xaxis:xs,yaxis:ys,x:X,y:Y,name:'\u00a0\u00a0\u00a0'+classNames[c],legendgroup:classNames[c],showlegend:i===0,
   line:{color:classColors[c],width:9.5,shape:'spline',smoothing:1},hoverinfo:'skip'});
 });
});
Plotly.newPlot('chart',traces,layout,{displayModeBar:false,staticPlot:true});
</script></body></html>
